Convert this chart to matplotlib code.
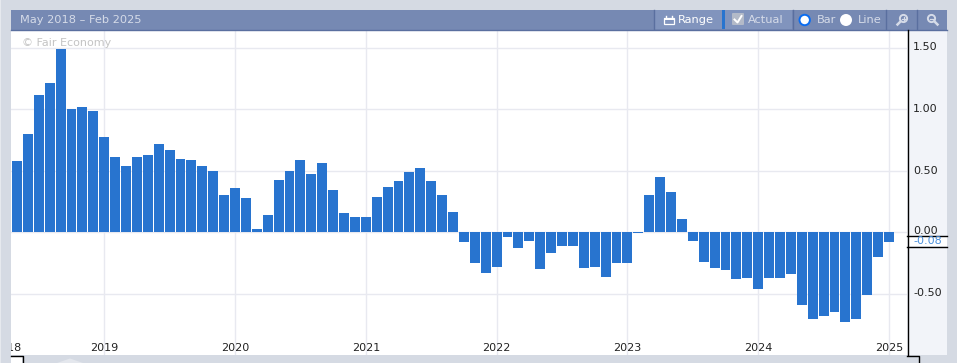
import matplotlib
matplotlib.use("Agg")
import matplotlib.pyplot as plt
from matplotlib.patches import Rectangle, Circle, FancyBboxPatch, Polygon

W, H = 957, 363

# monthly values, May 2018 onwards
values = [0.58, 0.80, 1.11, 1.21, 1.49, 1.00, 1.02, 0.98, 0.77, 0.61, 0.535, 0.61,
          0.625, 0.715, 0.665, 0.59, 0.585, 0.535, 0.50, 0.30, 0.355, 0.275, 0.025, 0.14,
          0.42, 0.495, 0.585, 0.47, 0.56, 0.34, 0.155, 0.12, 0.12, 0.285, 0.365, 0.415,
          0.485, 0.52, 0.415, 0.30, 0.16, -0.08, -0.25, -0.33, -0.285, -0.04, -0.13, -0.07,
          -0.30, -0.17, -0.11, -0.115, -0.29, -0.285, -0.365, -0.25, -0.25, -0.01, 0.30, 0.445,
          0.325, 0.105, -0.07, -0.24, -0.295, -0.305, -0.385, -0.375, -0.46, -0.375, -0.37, -0.345,
          -0.59, -0.71, -0.68, -0.65, -0.735, -0.71, -0.515, -0.205, -0.08]
year_labels = ["2019", "2020", "2021", "2022", "2023", "2024", "2025"]
year_pos = [8, 20, 32, 44, 56, 68, 80]
y_ticks = [1.5, 1.0, 0.5, 0.0, -0.5]
y_labels = ["1.50", "1.00", "0.50", "0.00", "-0.50"]

BAR = "#2874cf"
GRID = "#e8e9f0"
PAGE = "#d5dae3"
HEAD = "#7689b3"
HEAD_TXT = "#d5dbe8"
SIDE = "#f2f4f9"
LINE = "#5a6f9f"

fig = plt.figure(figsize=(W / 100, H / 100), dpi=100, facecolor=PAGE)


def box(x0, y0, x1, y1):
    return [x0 / W, 1 - y1 / H, (x1 - x0) / W, (y1 - y0) / H]


# bar panel, scaled so that month 0 lands at x=17 and 1.0 is 123 px
ax = fig.add_axes(box(11, 30, 907, 355))
ax.bar(range(len(values)), values, width=0.91, color=BAR, zorder=3)
ax.set_xlim(-0.55, 81.65)
ax.set_ylim((232 - 355) / 123, (232 - 30) / 123)
ax.set_xticks(year_pos)
ax.set_yticks(y_ticks)
ax.grid(color=GRID, linewidth=1, zorder=0)
ax.tick_params(length=0, labelbottom=False, labelleft=False)
for s in ax.spines.values():
    s.set_visible(False)
ax.set_axisbelow(True)
for p, t in zip(year_pos, year_labels):
    ax.annotate(t, (p, 0), xycoords=("data", "axes fraction"), xytext=(0, 5), textcoords="offset points",
                ha="center", va="center", fontsize=8.0, color="#222222")
lab = ax.annotate("2018", (0, 0), xycoords="axes fraction", xytext=(-2.5, 5), textcoords="offset points",
                  ha="center", va="center", fontsize=8.0, color="#222222", annotation_clip=False)
lab.set_clip_box(ax.bbox)
lab.set_clip_on(True)
ax.text(0.0125, 0.96, "© Fair Economy", transform=ax.transAxes, fontsize=8.0, color="#c4c4c4",
        va="center", zorder=5)

# page furniture drawn in pixel coordinates
ov = fig.add_axes([0, 0, 1, 1], facecolor="none")
ov.set_xlim(0, W)
ov.set_ylim(H, 0)
ov.axis("off")

ov.add_patch(Rectangle((0, 0), 1.2, H, fc="#e6e9ee", ec="none"))
ov.add_patch(Rectangle((907, 30), 40, 325, fc=SIDE, ec="none"))
ov.add_patch(Rectangle((11, 10), 936, 20, fc=HEAD, ec="none"))
ov.plot([11, 947], [29.5, 29.5], color=LINE, lw=1)
ov.plot([907.5, 907.5], [30, 355], color="black", lw=1)

# y labels
for v, t in zip(y_ticks, y_labels):
    py = 232 - v * 123
    ov.text(913, py - (1.5 if v == 0 else 0), t, ha="left", va="center", fontsize=8.0, color="#222222")

# current value flag
ov.add_patch(Rectangle((908, 236), 39, 10, fc="white", ec="none"))
ov.plot([907, 947], [235.5, 235.5], color="black", lw=1)
ov.plot([907, 947], [246.5, 246.5], color="black", lw=1)
ov.text(913, 241, "-0.08", ha="left", va="center", fontsize=8.0, color="#4a8fdc")

# bottom strip
ov.plot([907, 918.5, 918.5], [355.5, 355.5, 363], color="black", lw=1)
ov.add_patch(Rectangle((11, 356), 11, 7, fc="white", ec="none"))
ov.plot([11, 22.5, 22.5], [355.5, 355.5, 363], color="black", lw=1)
ov.add_patch(Polygon([(57, 363), (70, 358.5), (83, 363)], fc="#e4e7ed", ec="none"))

# header
ov.text(20.5, 20, "May 2018 – Feb 2025", fontsize=8.2, color=HEAD_TXT, va="center")
ov.add_patch(Rectangle((654, 10), 68, 19, fc="#8194bd", ec="none"))
ov.add_patch(Rectangle((722, 10), 3, 19, fc=BAR, ec="none"))
ov.add_patch(Rectangle((725, 10), 67, 19, fc="#8194bd", ec="none"))
for x in [653.5, 792.5, 885.5, 916.5]:
    ov.plot([x, x], [10, 29], color=LINE, lw=1)

# calendar icon
ov.add_patch(Rectangle((663.5, 18), 10.5, 6, fc="none", ec="white", lw=0.9))
ov.add_patch(Rectangle((663.5, 18), 10.5, 2.2, fc="white", ec="none"))
ov.plot([666, 666], [15.5, 18], color="white", lw=1)
ov.plot([671.5, 671.5], [15.5, 18], color="white", lw=1)
ov.text(678, 20, "Range", fontsize=8.2, color="white", va="center")

ov.add_patch(FancyBboxPatch((733, 14), 10, 10, boxstyle="round,pad=1", fc="#b3bac8", ec="none"))
ov.plot([734.5, 737.5, 741.5], [19.5, 22.5, 16], color="white", lw=1.4)
ov.text(748, 20, "Actual", fontsize=8.2, color=HEAD_TXT, va="center")

ov.add_patch(Circle((804.7, 20), 5.2, fc="white", ec="#0a6cf0", lw=1.4))
ov.text(816.7, 20, "Bar", fontsize=8.2, color=HEAD_TXT, va="center")
ov.add_patch(Circle((846, 20), 6, fc="white", ec="none"))
ov.text(857.7, 20, "Line", fontsize=8.2, color=HEAD_TXT, va="center")

# zoom in / zoom out
ov.add_patch(Circle((903.5, 18.5), 3.6, fc="none", ec=HEAD_TXT, lw=1.4))
ov.plot([900.5, 897.5], [21.5, 24.5], color=HEAD_TXT, lw=1.8)
ov.plot([901.5, 905.5], [18.5, 18.5], color=HEAD_TXT, lw=0.9)
ov.plot([903.5, 903.5], [16.5, 20.5], color=HEAD_TXT, lw=0.9)
ov.add_patch(Circle((931.5, 18.5), 3.6, fc="none", ec=HEAD_TXT, lw=1.4))
ov.plot([934.5, 937.5], [21.5, 24.5], color=HEAD_TXT, lw=1.8)
ov.plot([929.5, 933.5], [18.5, 18.5], color=HEAD_TXT, lw=0.9)

fig.savefig("out.png", dpi=100, facecolor=PAGE)
